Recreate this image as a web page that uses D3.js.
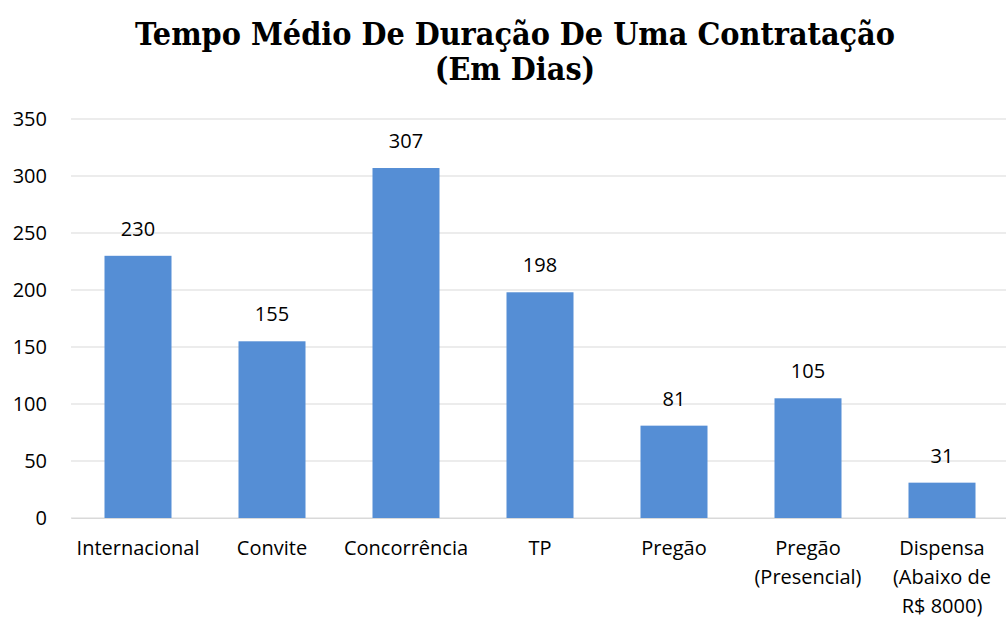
<!DOCTYPE html>
<html>
<head>
<meta charset="utf-8">
<script src="https://cdn.jsdelivr.net/npm/d3@7"></script>
<style>
  body { margin: 0; background: #fff; }
  svg { display: block; }
  .tick text { font-family: "Open Sans", "Noto Sans", sans-serif; font-size: 20px; fill: #000; }
</style>
</head>
<body>
<svg width="1006" height="621"></svg>
<script>
var categories = ["Internacional", "Convite", "Concorrência", "TP", "Pregão", "Pregão\n(Presencial)", "Dispensa\n(Abaixo de\nR$ 8000)"];
var values = [230, 155, 307, 198, 81, 105, 31];
var yTicks = [0, 50, 100, 150, 200, 250, 300, 350];
var titleLines = ["Tempo Médio De Duração De Uma Contratação", "(Em Dias)"];

var svg = d3.select("svg"),
  margin = {top: 119, right: -3, bottom: 103, left: 71},
  width = +svg.attr("width") - margin.left - margin.right,
  height = +svg.attr("height") - margin.top - margin.bottom,
  g = svg.append("g").attr("transform", "translate(" + margin.left + "," + margin.top + ")");

var x = d3.scaleBand().domain(categories).range([0, width]).paddingInner(0.5).paddingOuter(0.25),
  y = d3.scaleLinear().domain([0, 350]).range([height, 0]);

// title
svg.append("text")
  .attr("x", 515)
  .attr("y", 45)
  .attr("text-anchor", "middle")
  .style("font-family", "'DejaVu Serif Condensed', 'DejaVu Serif', serif")
  .style("font-weight", "bold")
  .style("font-size", "32px")
  .selectAll("tspan")
  .data(titleLines)
  .enter().append("tspan")
    .attr("x", 515)
    .attr("dy", (d, i) => i ? 35 : 0)
    .text(d => d);

// gridlines
g.append("g")
  .selectAll("line")
  .data(yTicks)
  .enter().append("line")
    .attr("x1", 0)
    .attr("x2", width)
    .attr("y1", d => y(d))
    .attr("y2", d => y(d))
    .attr("stroke", "#d9d9d9")
    .attr("stroke-width", 1);

// y axis
g.append("g")
  .attr("class", "axis axis--y")
  .call(d3.axisLeft(y).tickValues(yTicks).tickSize(0).tickPadding(24))
  .call(a => a.select(".domain").remove());

// bars
g.selectAll(".bar")
  .data(values)
  .enter().append("rect")
    .attr("class", "bar")
    .attr("x", (d, i) => x(categories[i]))
    .attr("y", d => y(d))
    .attr("width", x.bandwidth())
    .attr("height", d => height - y(d))
    .attr("fill", "#558ed5");

// value labels
g.selectAll(".label")
  .data(values)
  .enter().append("text")
    .attr("class", "label")
    .attr("x", (d, i) => x(categories[i]) + x.bandwidth() / 2)
    .attr("y", d => y(d) - 20)
    .attr("text-anchor", "middle")
    .style("font-family", "'Open Sans', 'Noto Sans', sans-serif")
    .style("font-size", "20px")
    .text(d => d);

// x axis
var xAxis = g.append("g")
  .attr("class", "axis axis--x")
  .attr("transform", "translate(0," + height + ")")
  .call(d3.axisBottom(x).tickSize(0).tickPadding(0).tickFormat(""));
xAxis.select(".domain").attr("stroke", "#d9d9d9");
xAxis.selectAll(".tick text").remove();
xAxis.selectAll(".tick")
  .append("text")
    .attr("text-anchor", "middle")
    .attr("y", 37)
    .selectAll("tspan")
    .data(d => d.split("\n"))
    .enter().append("tspan")
      .attr("x", 0)
      .attr("dy", (d, i) => i ? 29 : 0)
      .text(d => d);
</script>
</body>
</html>
